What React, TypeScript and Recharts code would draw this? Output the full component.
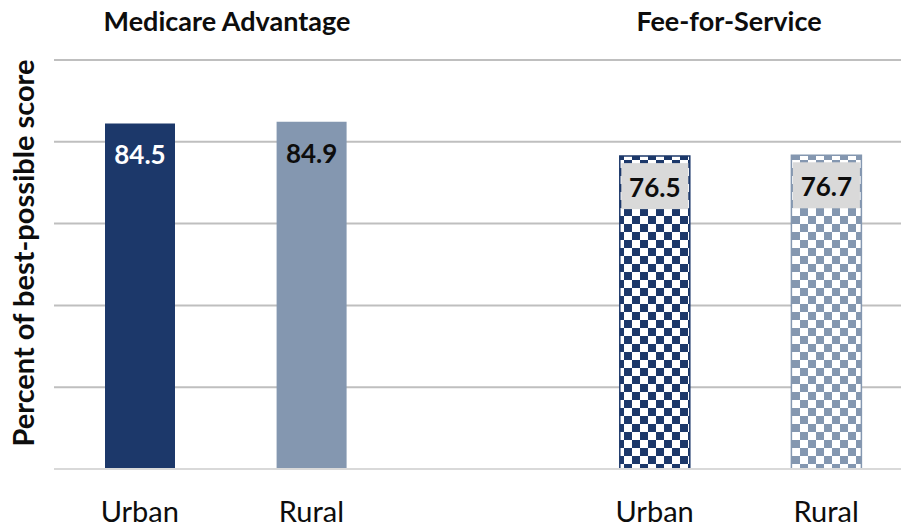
import React from 'react';
import { BarChart, Bar, XAxis, YAxis, CartesianGrid, Cell, LabelList } from 'recharts';

// Urban / rural scores, with an empty slot between the two groups
const categories = ['Urban', 'Rural', '', 'Urban', 'Rural'];
const scores = [84.5, 84.9, null, 76.5, 76.7];
const groupTitles = ['Medicare Advantage', 'Fee-for-Service'];
const yTicks = [0, 20, 40, 60, 80, 100];

const NAVY = '#1C386A';
const STEEL = '#8497B0';
const FONT = 'Lato, "Open Sans", sans-serif';

const chartData = categories.map((name, i) => ({ name, score: scores[i] }));

const fills = [NAVY, STEEL, 'none', 'url(#chkNavy)', 'url(#chkSteel)'];
const strokes = ['none', 'none', 'none', NAVY, STEEL];

const XTick = (props: any) => {
  const { x, payload } = props;
  return (
    <text x={x} y={522} textAnchor="middle" fontFamily={FONT} fontSize={29} fill="#0D0D0D">
      {categories[payload.index]}
    </text>
  );
};

const ValueLabel = (props: any) => {
  const { x, y, width, value } = props;
  if (value == null) return null;
  const i = scores.indexOf(value);
  const boxed = i >= 3;
  return (
    <g>
      {boxed && <rect x={x + 1.5} y={y + 7} width={width - 3} height={46} fill="#D9D9D9" />}
      <text
        x={x + width / 2}
        y={y + 41}
        textAnchor="middle"
        fontFamily={FONT}
        fontWeight={700}
        fontSize={26}
        fill={i === 0 ? '#FFFFFF' : '#0D0D0D'}
      >
        {value.toFixed(1)}
      </text>
    </g>
  );
};

export default function App() {
  return (
    <div style={{ position: 'absolute', left: 0, top: 0, width: 901, height: 527, overflow: 'hidden', background: '#fff' }}>
      <BarChart width={912} height={527} data={chartData} margin={{ top: 60, right: 0, bottom: 0, left: 54 }}>
        <defs>
          <pattern id="chkNavy" width={16} height={16} patternUnits="userSpaceOnUse">
            <rect width={16} height={16} fill="#FFFFFF" />
            <rect width={8} height={8} fill={NAVY} />
            <rect x={8} y={8} width={8} height={8} fill={NAVY} />
          </pattern>
          <pattern id="chkSteel" width={16} height={16} patternUnits="userSpaceOnUse">
            <rect width={16} height={16} fill="#FFFFFF" />
            <rect width={8} height={8} fill={STEEL} />
            <rect x={8} y={8} width={8} height={8} fill={STEEL} />
          </pattern>
        </defs>
        <CartesianGrid vertical={false} stroke="#BFBFBF" strokeWidth={2} />
        <YAxis hide domain={[0, 100]} ticks={yTicks} />
        <XAxis
          dataKey="name"
          height={58}
          tickLine={false}
          axisLine={{ stroke: '#D9D9D9', strokeWidth: 2 }}
          tick={<XTick />}
          interval={0}
        />
        <Bar dataKey="score" barSize={70} isAnimationActive={false}>
          {chartData.map((_, i) => (
            <Cell key={i} fill={fills[i]} stroke={strokes[i]} strokeWidth={1.5} />
          ))}
          <LabelList dataKey="score" content={<ValueLabel />} />
        </Bar>
      </BarChart>
      <svg width={901} height={527} style={{ position: 'absolute', left: 0, top: 0, pointerEvents: 'none' }}>
        <text x={227} y={31} textAnchor="middle" fontFamily={FONT} fontWeight={700} fontSize={27} fill="#0D0D0D">
          {groupTitles[0]}
        </text>
        <text x={729} y={31} textAnchor="middle" fontFamily={FONT} fontWeight={700} fontSize={27} fill="#0D0D0D">
          {groupTitles[1]}
        </text>
        <text
          x={34}
          y={253}
          transform="rotate(-90 34 253)"
          textAnchor="middle"
          fontFamily={FONT}
          fontWeight={700}
          fontSize={29}
          fill="#0D0D0D"
        >
          Percent of best-possible score
        </text>
      </svg>
    </div>
  );
}
